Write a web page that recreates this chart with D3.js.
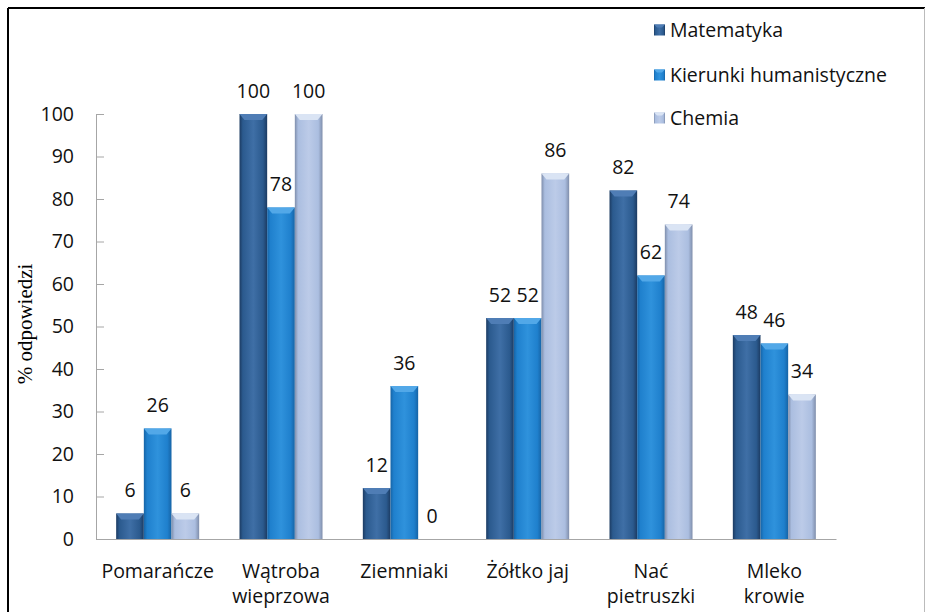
<!DOCTYPE html>
<html><head><meta charset="utf-8">
<script src="https://cdn.jsdelivr.net/npm/d3@7"></script>
<style>body{margin:0;background:#fff}svg{display:block}</style>
</head><body><svg id="c" width="925" height="612"></svg>
<script>
const categories = [["Pomarańcze"],["Wątroba","wieprzowa"],["Ziemniaki"],["Żółtko jaj"],["Nać","pietruszki"],["Mleko","krowie"]];
const seriesNames = ["Matematyka","Kierunki humanistyczne","Chemia"];
const matematyka = [6,100,12,52,82,48];
const humanistyczne = [26,78,36,52,62,46];
const chemia = [6,100,0,86,74,34];
const yTicks = [0,10,20,30,40,50,60,70,80,90,100];
const yTitle = "% odpowiedzi";

const series = [matematyka, humanistyczne, chemia];
const colors = [
  {main:"#2b5a8e", edge:"#1c3b62", light:"#3f6fa6", top:"#4f7db5"},
  {main:"#1f80cd", edge:"#1664a6", light:"#2f92dc", top:"#52a8e8"},
  {main:"#abbee0", edge:"#7f8eab", light:"#bccbe8", top:"#dae4f4"}
];
const font = "'Open Sans', sans-serif";
const fs = 19.5;
const svg = d3.select("#c");
const defs = svg.append("defs");
colors.forEach((c,i)=>{
  const g = defs.append("linearGradient").attr("id","g"+i).attr("x1","0").attr("x2","1").attr("y1","0").attr("y2","0");
  g.append("stop").attr("offset","0").attr("stop-color",c.edge);
  g.append("stop").attr("offset","0.12").attr("stop-color",c.main);
  g.append("stop").attr("offset","0.5").attr("stop-color",c.light);
  g.append("stop").attr("offset","0.85").attr("stop-color",c.main);
  g.append("stop").attr("offset","1").attr("stop-color",c.edge);
});

// frame
svg.append("line").attr("x1",8).attr("x2",925).attr("y1",8).attr("y2",8).attr("stroke","#000").attr("stroke-width",2);
svg.append("line").attr("x1",8).attr("x2",8).attr("y1",8).attr("y2",612).attr("stroke","#000").attr("stroke-width",2);
svg.append("line").attr("x1",924.5).attr("x2",924.5).attr("y1",8).attr("y2",612).attr("stroke","#bbb").attr("stroke-width",1);

const x0 = d3.scaleBand().domain(d3.range(categories.length)).range([96,836]).paddingInner(0.327).paddingOuter(0.1635);
const x1 = d3.scaleBand().domain(d3.range(series.length)).range([0,x0.bandwidth()]);
const y = d3.scaleLinear().domain([0,100]).range([539,114]);

// y axis
const ya = svg.append("g").attr("transform","translate(96,0)")
  .call(d3.axisLeft(y).tickValues(yTicks).tickSizeInner(-8).tickSizeOuter(0).tickPadding(22));
ya.select(".domain").attr("stroke","#a6a6a6");
ya.selectAll(".tick line").attr("stroke","#a6a6a6");
ya.selectAll(".tick text").attr("font-family",font).attr("font-size",fs).attr("fill","#111");

// bars
const w = x1.bandwidth();
series.forEach((vals,si)=>{
  const g = svg.append("g");
  vals.forEach((v,ci)=>{
    const bx = x0(ci)+x1(si);
    const by = y(v);
    const h = y(0)-by;
    if (h>0){
      g.append("rect").attr("x",bx).attr("y",by).attr("width",w).attr("height",h).attr("fill","url(#g"+si+")");
      const bh = Math.min(6,h);
      g.append("polygon").attr("points",[[bx,by],[bx+w,by],[bx+w-5,by+bh],[bx+5,by+bh]].map(p=>p.join(",")).join(" "))
        .attr("fill",colors[si].top);
    }
    svg.append("text").attr("x",bx+w/2).attr("y",by-23).attr("dy","0.35em").attr("text-anchor","middle")
      .attr("font-family",font).attr("font-size",fs).attr("fill","#111").text(v);
  });
});

// x axis
const xa = svg.append("g").attr("transform","translate(0,539)")
  .call(d3.axisBottom(x0).tickSize(0).tickFormat(""));
xa.select(".domain").attr("stroke","#a6a6a6");
xa.selectAll(".tick").each(function(d){
  const t = d3.select(this).append("text").attr("text-anchor","middle").attr("font-family",font).attr("font-size",fs).attr("fill","#111");
  categories[d].forEach((ln,i)=>{
    t.append("tspan").attr("x",0).attr("y",32+i*25).attr("dy","0.35em").text(ln);
  });
});

// y title
svg.append("text").attr("transform","translate(25,324) rotate(-90)").attr("text-anchor","middle").attr("dy","0.35em")
  .attr("font-family","'Liberation Serif', serif").attr("font-size",21).attr("fill","#000").text(yTitle);

// legend
const ly = [30,75,118];
seriesNames.forEach((n,i)=>{
  const g = svg.append("g").attr("transform",`translate(654,${ly[i]})`);
  g.append("rect").attr("x",0).attr("y",-5.5).attr("width",11).attr("height",11).attr("fill","url(#g"+i+")");
  g.append("polygon").attr("points","0,-5.5 11,-5.5 8,-2.5 3,-2.5").attr("fill",colors[i].top);
  g.append("text").attr("x",16).attr("dy","0.35em").attr("font-family",font).attr("font-size",fs).attr("fill","#111").text(n);
});
</script></body></html>
